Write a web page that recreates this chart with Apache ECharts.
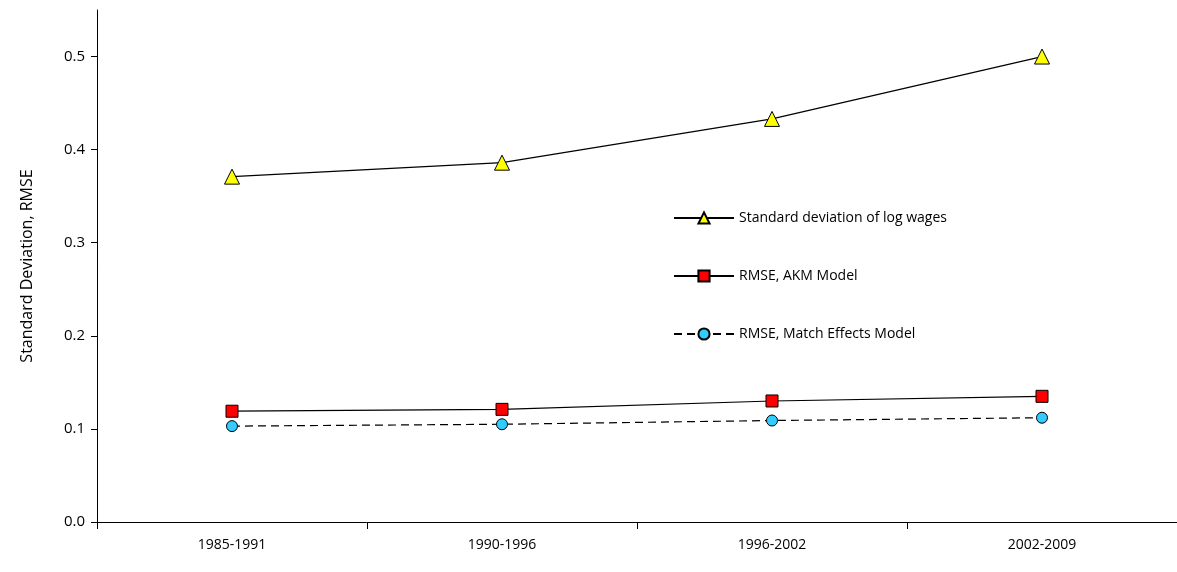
<!DOCTYPE html>
<html>
<head>
<meta charset="utf-8">
<script src="https://cdn.jsdelivr.net/npm/echarts@6/dist/echarts.min.js"></script>
<style>html,body{margin:0;background:#fff}#chart{width:1177px;height:572px}</style>
</head>
<body>
<div id="chart"></div>
<script>
var periods = ['1985-1991', '1990-1996', '1996-2002', '2002-2009'];
var sdLogWages = [0.371, 0.386, 0.433, 0.500];
var rmseAkm = [0.119, 0.121, 0.130, 0.135];
var rmseMatch = [0.103, 0.105, 0.109, 0.112];
var yTicks = ['0.0', '0.1', '0.2', '0.3', '0.4', '0.5'];

var font = 'Open Sans';
var chart = echarts.init(document.getElementById('chart'));
chart.setOption({
    animation: false,
    textStyle: { fontFamily: font },
    grid: { left: 97, right: 0, top: 10, bottom: 50 },
    legend: {
        orient: 'vertical', left: 668, top: 206, itemGap: 44,
        itemWidth: 60, itemHeight: 14,
        textStyle: { fontSize: 14, color: '#000', fontFamily: font },
        data: ['Standard deviation of log wages', 'RMSE, AKM Model', 'RMSE, Match Effects Model']
    },
    xAxis: {
        type: 'category', data: periods, boundaryGap: true,
        axisLine: { lineStyle: { color: '#000' } },
        axisTick: { show: true, length: 7, lineStyle: { color: '#000' } },
        axisLabel: { color: '#000', fontSize: 14, margin: 16 }
    },
    yAxis: {
        type: 'value', min: 0, max: 0.55, interval: 0.1,
        name: 'Standard Deviation, RMSE', nameLocation: 'middle', nameGap: 62,
        nameTextStyle: { fontSize: 16, color: '#000' },
        splitLine: { show: false },
        axisLine: { show: true, lineStyle: { color: '#000' } },
        axisTick: { show: true, length: 6, lineStyle: { color: '#000' } },
        axisLabel: {
            color: '#000', fontSize: 15, margin: 12,
            showMaxLabel: false,
            formatter: function (v) { return yTicks[Math.round(v * 10)] || ''; }
        }
    },
    series: [
        { name: 'Standard deviation of log wages', type: 'line', data: sdLogWages,
          symbol: 'triangle', symbolSize: 15,
          lineStyle: { color: '#000', width: 1.2 },
          itemStyle: { color: '#ffff00', borderColor: '#000', borderWidth: 1 } },
        { name: 'RMSE, AKM Model', type: 'line', data: rmseAkm,
          symbol: 'rect', symbolSize: 12,
          lineStyle: { color: '#000', width: 1.2 },
          itemStyle: { color: '#ff0000', borderColor: '#000', borderWidth: 1 } },
        { name: 'RMSE, Match Effects Model', type: 'line', data: rmseMatch,
          symbol: 'circle', symbolSize: 11,
          lineStyle: { color: '#000', width: 1.2, type: [8, 5] },
          itemStyle: { color: '#33ccff', borderColor: '#000', borderWidth: 1 } }
    ]
});
</script>
</body>
</html>
